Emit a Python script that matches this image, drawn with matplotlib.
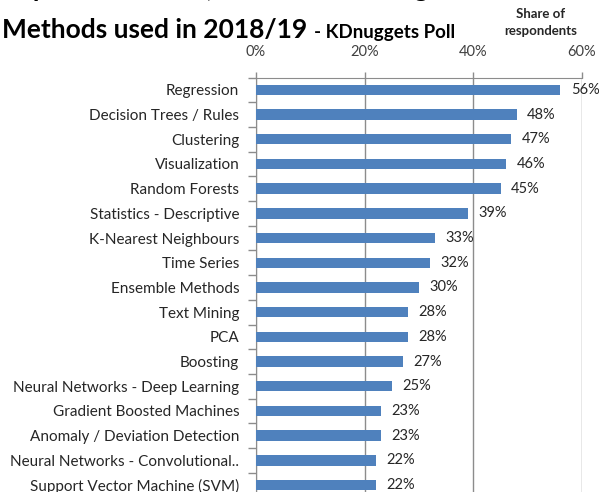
import matplotlib

matplotlib.use("Agg")
import matplotlib.pyplot as plt
from matplotlib.ticker import FixedLocator, FuncFormatter

plt.rcParams["font.family"] = ["Lato", "DejaVu Sans"]

# Share of respondents per method (%), top to bottom
methods = [
    "Regression",
    "Decision Trees / Rules",
    "Clustering",
    "Visualization",
    "Random Forests",
    "Statistics - Descriptive",
    "K-Nearest Neighbours",
    "Time Series",
    "Ensemble Methods",
    "Text Mining",
    "PCA",
    "Boosting",
    "Neural Networks - Deep Learning",
    "Gradient Boosted Machines",
    "Anomaly / Deviation Detection",
    "Neural Networks - Convolutional..",
    "Support Vector Machine (SVM)",
]
share = [56, 48, 47, 46, 45, 39, 33, 32, 30, 28, 28, 27, 25, 23, 23, 22, 22]
xticks = [0, 20, 40, 60]

BLUE = "#4f81bd"
GRID = "#8c8c8c"
TEXT = "#262626"

W, H = 599, 492
fig = plt.figure(figsize=(W / 100, H / 100), dpi=100)

# axes in pixel terms: 0% at x=256, 60% at x=582, top at y=77.5, 24.7 px per row
left, right, top, row = 256, 582, 77.5, 24.7
n = len(methods)
ax = fig.add_axes([left / W, 1 - (top + n * row) / H, (right - left) / W, n * row / H])

ypos = list(range(n))
ax.barh(ypos, share, height=0.42, color=BLUE, zorder=3)
ax.set_xlim(0, 60)
ax.set_ylim(n - 0.5, -0.5)

for y, v in zip(ypos, share):
    ax.annotate(f"{v:.0f}%", (v, y), xytext=(7.5, 0), textcoords="offset points",
                ha="left", va="center", fontsize=10.5, color=TEXT, zorder=4)

# x axis on top, gray grid
ax.xaxis.tick_top()
ax.set_xticks(xticks)
ax.xaxis.set_major_formatter(FuncFormatter(lambda v, _: f"{v:.0f}%"))
ax.tick_params(axis="x", length=4, width=1, color=GRID, pad=9,
               labelsize=10.5, labelcolor="#404040")
ax.grid(axis="x", color=GRID, linewidth=1, zorder=0)

# category labels, tick marks sit between rows
ax.set_yticks(ypos)
ax.set_yticklabels(methods)
ax.yaxis.set_minor_locator(FixedLocator([i - 0.5 for i in range(n + 1)]))
ax.tick_params(axis="y", which="major", length=0, pad=12, labelsize=11, labelcolor=TEXT)
ax.tick_params(axis="y", which="minor", length=6, width=1, color=GRID)

for side in ["right", "bottom"]:
    ax.spines[side].set_visible(False)
ax.spines["left"].set_color(GRID)
ax.spines["top"].set_color(GRID)

# title, first line runs off the top edge
fig.text(2 / W, 1 + 3 / H, "Top Data Science, Machine Learning", fontsize=19,
         fontweight="bold", color="black", ha="left", va="baseline")
fig.text(2 / W, 1 - 38 / H, "Methods used in 2018/19", fontsize=19,
         fontweight="bold", color="black", ha="left", va="baseline")
fig.text(314 / W, 1 - 38 / H, "- KDnuggets Poll", fontsize=13.5,
         fontweight="bold", color="black", ha="left", va="baseline")
fig.text(541 / W, 1 - 18 / H, "Share of", fontsize=9.5, fontweight="bold",
         color=TEXT, ha="center", va="baseline")
fig.text(541 / W, 1 - 35 / H, "respondents", fontsize=9.5, fontweight="bold",
         color=TEXT, ha="center", va="baseline")

fig.savefig("out.png", dpi=100)
